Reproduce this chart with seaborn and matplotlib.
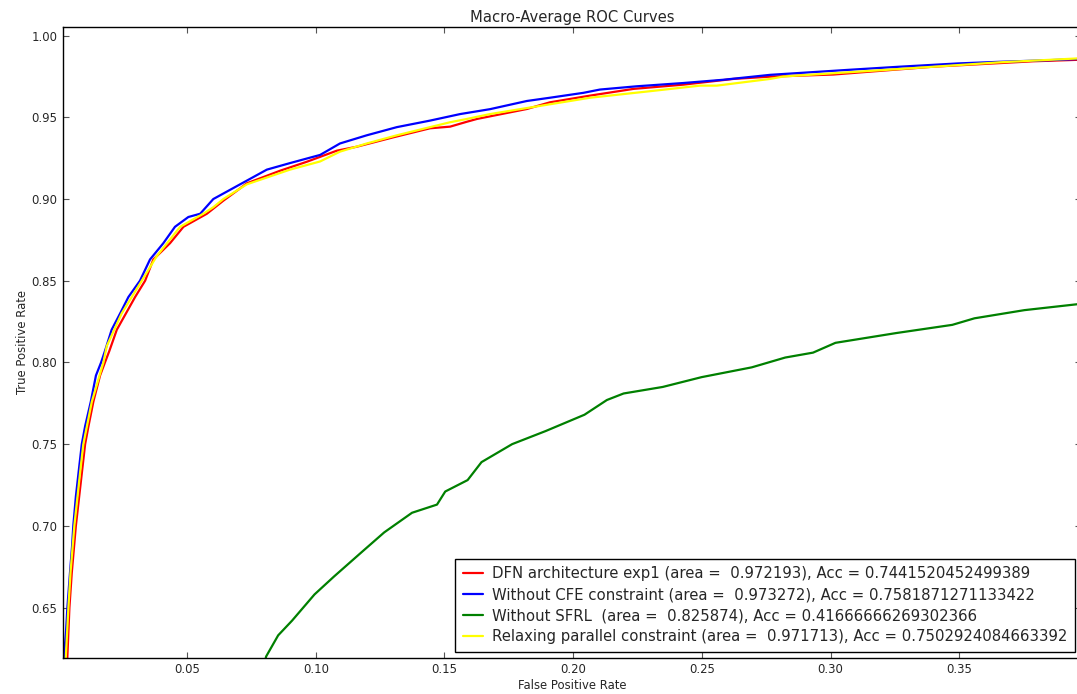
import numpy as np
import pandas as pd
import matplotlib
matplotlib.use("Agg")
import matplotlib.pyplot as plt
import seaborn as sns

# --- values (FPR, TPR) ---
dfn_fpr = [0.0034, 0.0035, 0.0043, 0.0052, 0.0068, 0.0091, 0.0104, 0.0117, 0.0136, 0.0162,
           0.0181, 0.0198, 0.0227, 0.0298, 0.0337, 0.0369, 0.0434, 0.0486, 0.0577, 0.0641,
           0.0693, 0.0732, 0.0861, 0.0965, 0.1082, 0.1159, 0.1302, 0.1444, 0.1522, 0.1587,
           0.1626, 0.1820, 0.1910, 0.2066, 0.2234, 0.2428, 0.2622, 0.2765, 0.3011, 0.3400,
           0.3788, 0.3980]
dfn_tpr = [0.615, 0.620, 0.650, 0.671, 0.700, 0.732, 0.750, 0.761, 0.776, 0.792,
           0.800, 0.807, 0.820, 0.840, 0.850, 0.863, 0.873, 0.883, 0.891, 0.899,
           0.905, 0.9096, 0.9173, 0.9228, 0.9296, 0.932, 0.9378, 0.9433, 0.9443, 0.9473,
           0.949, 0.9551, 0.9592, 0.9633, 0.9674, 0.970, 0.9735, 0.9749, 0.9762, 0.981,
           0.9843, 0.9853]

cfe_fpr = [0.0020, 0.0022, 0.0030, 0.0035, 0.0045, 0.0053, 0.0058, 0.0068, 0.0078, 0.0091,
           0.0104, 0.0126, 0.0146, 0.0166, 0.0181, 0.0207, 0.0240, 0.0272, 0.0317, 0.0356,
           0.0408, 0.0453, 0.0505, 0.0551, 0.0602, 0.0706, 0.0810, 0.0900, 0.1017, 0.1094,
           0.1198, 0.1315, 0.1444, 0.1561, 0.1677, 0.1820, 0.1910, 0.2040, 0.2104, 0.2247,
           0.2428, 0.2584, 0.2765, 0.3063, 0.3270, 0.3497, 0.3659, 0.3853, 0.3980]
cfe_tpr = [0.615, 0.620, 0.636, 0.650, 0.671, 0.687, 0.700, 0.718, 0.732, 0.750,
           0.761, 0.776, 0.792, 0.800, 0.807, 0.820, 0.830, 0.840, 0.850, 0.863,
           0.873, 0.883, 0.889, 0.891, 0.900, 0.909, 0.918, 0.922, 0.927, 0.934,
           0.939, 0.944, 0.948, 0.952, 0.955, 0.960, 0.962, 0.965, 0.967, 0.969,
           0.971, 0.973, 0.976, 0.979, 0.981, 0.983, 0.984, 0.985, 0.9858]

sfrl_fpr = [0.0800, 0.0807, 0.0854, 0.0908, 0.0995, 0.1071, 0.1179, 0.1266, 0.1374, 0.1471,
            0.1503, 0.1590, 0.1644, 0.1763, 0.1893, 0.2044, 0.2131, 0.2196, 0.2348, 0.2499,
            0.2694, 0.2824, 0.2932, 0.3019, 0.3256, 0.3473, 0.3559, 0.3753, 0.3980]
sfrl_tpr = [0.615, 0.620, 0.633, 0.642, 0.658, 0.669, 0.684, 0.696, 0.708, 0.713,
            0.721, 0.728, 0.739, 0.750, 0.758, 0.768, 0.777, 0.781, 0.785, 0.791,
            0.797, 0.803, 0.806, 0.812, 0.818, 0.823, 0.827, 0.832, 0.836]

rpc_fpr = [0.0027, 0.0029, 0.0039, 0.0047, 0.0062, 0.0084, 0.0097, 0.0130, 0.0175, 0.0188,
           0.0246, 0.0324, 0.0382, 0.0473, 0.0563, 0.0602, 0.0641, 0.0732, 0.0900, 0.1017,
           0.1094, 0.1198, 0.1315, 0.1444, 0.1522, 0.1587, 0.1677, 0.1910, 0.2066, 0.2299,
           0.2493, 0.2558, 0.2765, 0.2817, 0.3270, 0.3659, 0.3980]
rpc_tpr = [0.615, 0.620, 0.650, 0.671, 0.700, 0.732, 0.750, 0.776, 0.800, 0.810,
           0.830, 0.850, 0.865, 0.883, 0.891, 0.895, 0.900, 0.909, 0.918, 0.923,
           0.929, 0.934, 0.939, 0.944, 0.947, 0.949, 0.952, 0.958, 0.962, 0.966,
           0.9694, 0.9694, 0.9735, 0.975, 0.9796, 0.9837, 0.9862]

labels = [
    "DFN architecture exp1 (area =  0.972193), Acc = 0.7441520452499389",
    "Without CFE constraint (area =  0.973272), Acc = 0.7581871271133422",
    "Without SFRL  (area =  0.825874), Acc = 0.41666666269302366",
    "Relaxing parallel constraint (area =  0.971713), Acc = 0.7502924084663392",
]
colors = ["red", "blue", "green", "yellow"]
series = [(dfn_fpr, dfn_tpr), (cfe_fpr, cfe_tpr), (sfrl_fpr, sfrl_tpr), (rpc_fpr, rpc_tpr)]

sns.set_style("ticks", {
    "xtick.direction": "in", "ytick.direction": "in",
    "xtick.top": True, "ytick.right": True,
    "axes.edgecolor": "black",
})
plt.rcParams["font.family"] = ["DejaVu Sans"]

fig = plt.figure(figsize=(10.77, 6.94), dpi=100)
# axes runs slightly past the right edge of the image, as in the reference
ax = fig.add_axes([63 / 1077, 36.3 / 694, 1018 / 1077, 630.4 / 694])

for (fpr, tpr), col, lab in zip(series, colors, labels):
    sns.lineplot(x=fpr, y=tpr, ax=ax, color=col, label=lab, lw=1.6,
                 estimator=None, sort=False)

ax.set_xlim(0.0018, 0.3973)
ax.set_ylim(0.6193, 1.0051)
ax.set_xticks([0.05, 0.10, 0.15, 0.20, 0.25, 0.30, 0.35])
ax.set_yticks([0.65, 0.70, 0.75, 0.80, 0.85, 0.90, 0.95, 1.00])
ax.xaxis.set_major_formatter(matplotlib.ticker.FormatStrFormatter("%.2f"))
ax.yaxis.set_major_formatter(matplotlib.ticker.FormatStrFormatter("%.2f"))
ax.tick_params(labelsize=8.4, length=4, width=0.8, color="#555555", pad=4)
for sp in ax.spines.values():
    sp.set_linewidth(1.0)

ax.set_title("Macro-Average ROC Curves", fontsize=10.6, pad=4)
ax.set_xlabel("False Positive Rate", fontsize=8.4, labelpad=2)
ax.set_ylabel("True Positive Rate", fontsize=8.4, labelpad=1.5)

leg = ax.legend(loc="lower right", fontsize=10.7, fancybox=False, framealpha=1,
                edgecolor="black", handlelength=1.4, borderaxespad=0.4,
                borderpad=0.5, labelspacing=0.4, handletextpad=0.6)
leg.get_frame().set_linewidth(1.0)

fig.savefig("out.png", dpi=100)
